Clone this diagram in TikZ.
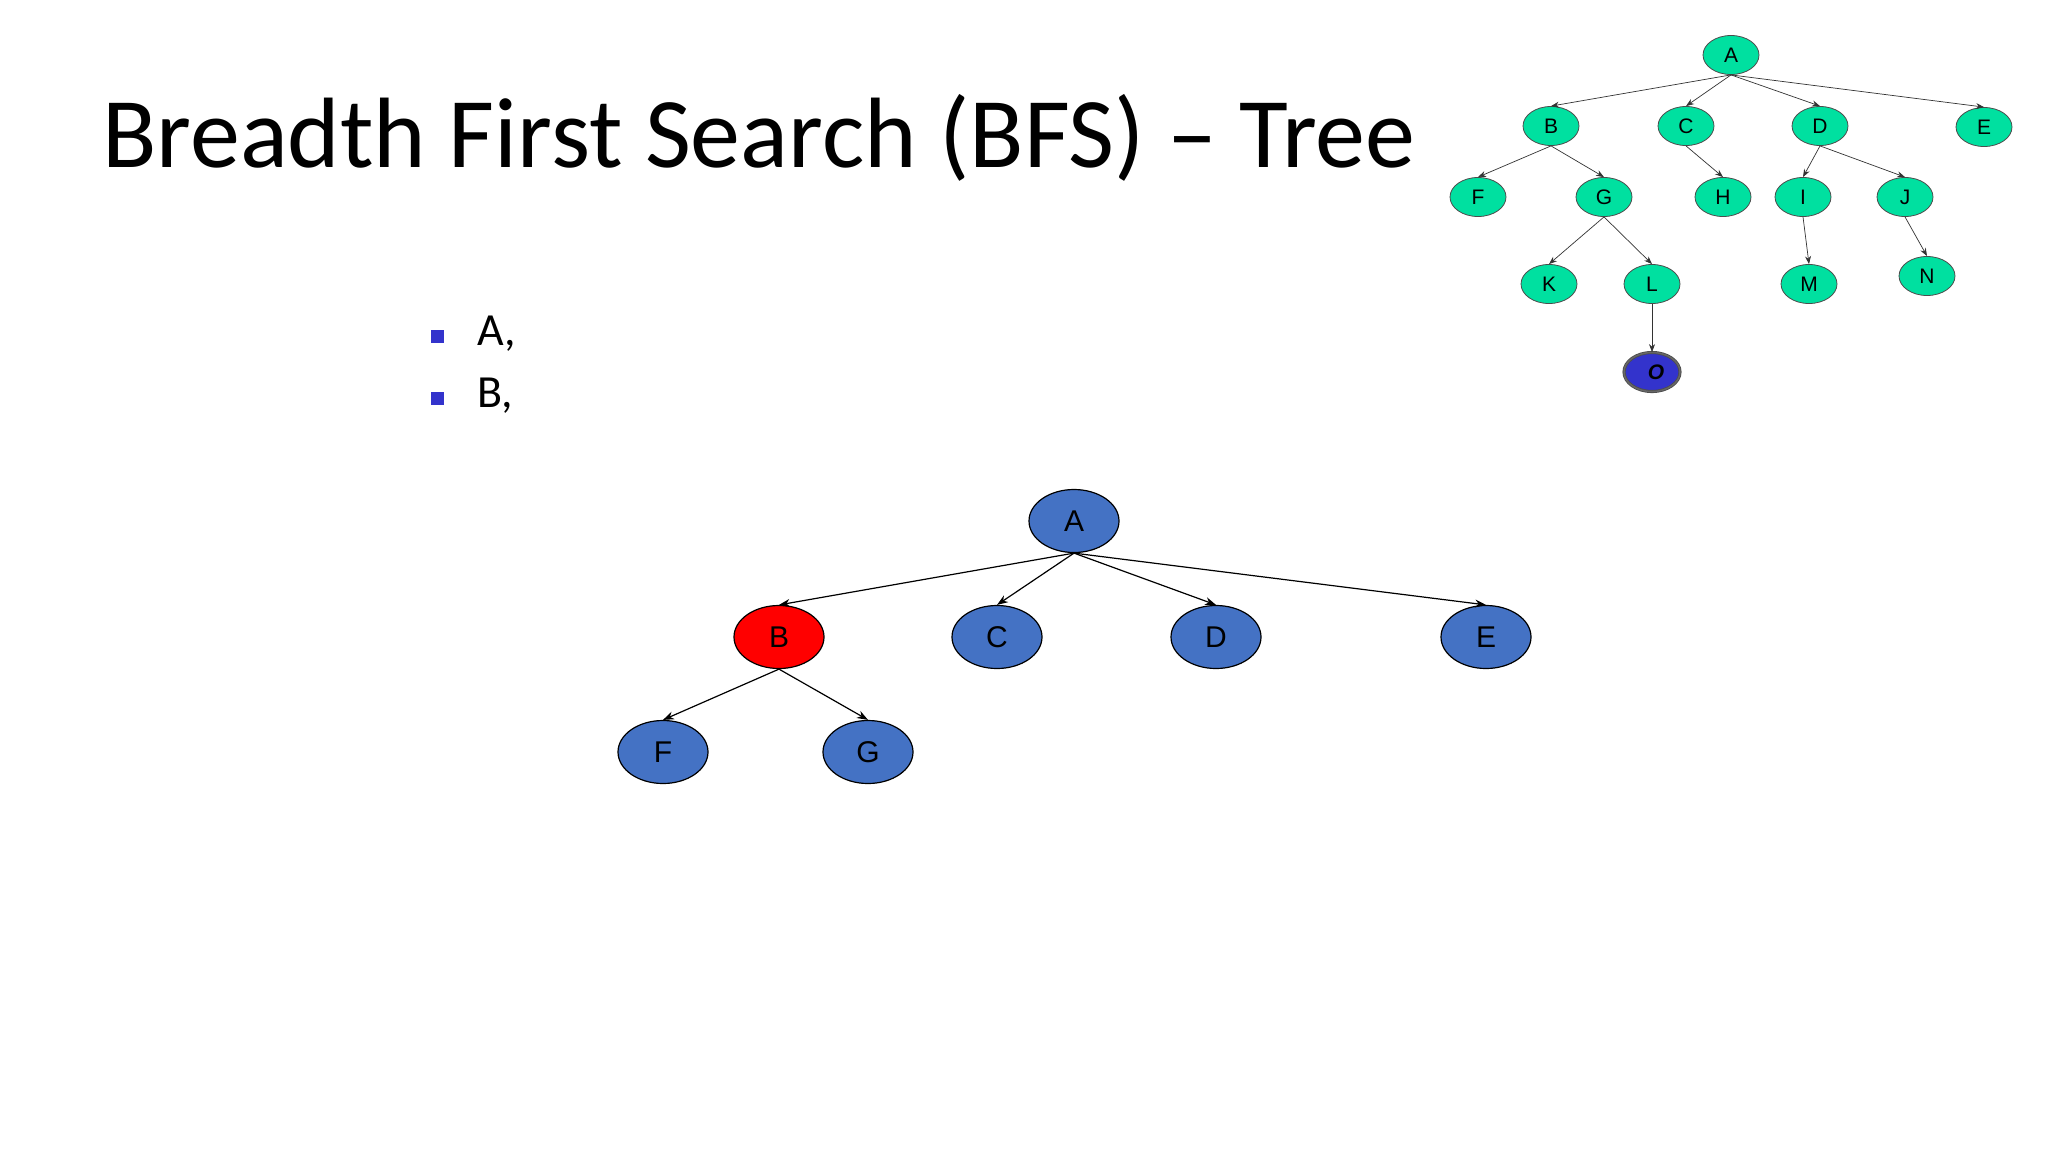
\documentclass[tikz,border=0pt]{standalone}
\usepackage{fontspec}
\setmainfont{Carlito}
\newfontfamily\arialf{Liberation Sans}
\usetikzlibrary{arrows.meta,shapes.geometric}
\definecolor{nodeblue}{HTML}{4472C4}
\definecolor{mint}{HTML}{00E0A0}
\definecolor{bullblue}{HTML}{3333CC}
\definecolor{oblue}{HTML}{3333CC}
\begin{document}
\begin{tikzpicture}[x=1pt,y=-1pt,
  big/.style={ellipse,draw=black,line width=1.2pt,fill=nodeblue,minimum width=90pt,minimum height=63pt,inner sep=0pt,font=\arialf\fontsize{30}{36}\selectfont},
  sm/.style={ellipse,draw=black!70,line width=0.8pt,fill=mint,minimum width=56pt,minimum height=39pt,inner sep=0pt,font=\arialf\fontsize{21}{25}\selectfont},
  bedge/.style={-{Stealth[length=11pt,width=8pt]},line width=1.2pt},
  sedge/.style={-{Stealth[length=8pt,width=6pt]},line width=0.7pt,draw=black!80},
  bul/.style={fill=bullblue,minimum size=13pt,inner sep=0pt},
  btxt/.style={anchor=west,font=\fontsize{46}{54}\selectfont}]
\useasboundingbox[fill=white] (0,0) rectangle (2048,1152);
\node[anchor=west,font=\fontsize{100}{120}\selectfont,inner sep=0pt] (title) at (102,138) {Breadth First Search (BFS) – Tree};
\node[bul] (b1) at (437,336) {};
\node[btxt] (t1) at (474,334) {A,};
\node[bul] (b2) at (437,398) {};
\node[btxt] (t2) at (474,396) {B,};
% big tree
\node[big] (A) at (1074,521) {A};
\node[big,fill=red] (B) at (779,637) {B};
\node[big] (C) at (997,637) {C};
\node[big] (D) at (1216,637) {D};
\node[big] (E) at (1486,637) {E};
\node[big] (F) at (663,752) {F};
\node[big] (G) at (868,752) {G};
\foreach \c in {B,C,D,E} \draw[bedge] (A.south) -- (\c.north);
\foreach \c in {F,G} \draw[bedge] (B.south) -- (\c.north);
% small tree
\node[sm] (a) at (1731,55) {A};
\node[sm] (b) at (1551,126) {B};
\node[sm] (c) at (1686,126) {C};
\node[sm] (d) at (1820,126) {D};
\node[sm] (e) at (1984,127) {E};
\node[sm] (f) at (1478,197) {F};
\node[sm] (g) at (1604,197) {G};
\node[sm] (h) at (1723,197) {H};
\node[sm] (i) at (1803,197) {I};
\node[sm] (j) at (1905,197) {J};
\node[sm] (k) at (1549,284) {K};
\node[sm] (l) at (1652,284) {L};
\node[sm] (m) at (1809,284) {M};
\node[sm] (n) at (1927,276) {N};
\node[sm,fill=oblue,double=black!60,double distance=1.5pt,font=\arialf\bfseries\itshape\fontsize{21}{25}\selectfont] (o) at (1652,372) {\hspace{8pt}O};
\foreach \c in {b,c,d,e} \draw[sedge] (a.south) -- (\c.north);
\foreach \p/\c in {b/f,b/g,c/h,d/i,d/j,g/k,g/l,i/m,j/n,l/o} \draw[sedge] (\p.south) -- (\c.north);
\end{tikzpicture}
\end{document}
